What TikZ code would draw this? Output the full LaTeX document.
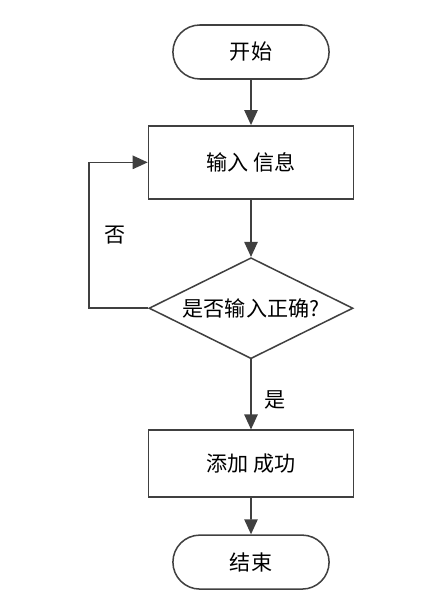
\documentclass[tikz,border=0pt]{standalone}
\usepackage{fontspec}
\setmainfont{Noto Sans CJK SC}
\usetikzlibrary{arrows.meta, positioning, shapes.geometric, shapes.misc}
\definecolor{linegray}{HTML}{404040}
\tikzset{
  term/.style={draw=linegray, line width=1.3pt, rounded rectangle, minimum width=4.92cm, minimum height=1.62cm, font=\fontsize{18}{20}\selectfont},
  proc/.style={draw=linegray, line width=1.3pt, minimum width=6.15cm, minimum height=#1, font=\fontsize{18}{20}\selectfont},
  cond/.style={draw=linegray, line width=1.3pt, diamond, aspect=2, inner sep=0pt, minimum width=6.12cm, minimum height=3.03cm, font=\fontsize{18}{20}\selectfont},
  lbl/.style={font=\fontsize{18}{20}\selectfont},
  arr/.style={-{Triangle[length=4.5mm, width=4mm]}, draw=linegray, line width=1.3pt},
}
\begin{document}
\begin{tikzpicture}
    \useasboundingbox (0,0) rectangle (13.29,-17.91);
    \node[term] (start) at (7.53,-1.56) {开始};
    \node[proc=2.19cm, below=1.36cm of start] (inp) {输入\hspace{0.2em}信息};
    \node[cond, below=1.72cm of inp] (chk) {是否输入正确?};
    \node[proc=2.0cm, below=2.1cm of chk] (add) {添加\hspace{0.2em}成功};
    \node[term, below=1.1cm of add] (stop) {结束};
    \node[lbl] (no) at (3.45,-7.05) {否};
    \node[lbl] (yes) at (8.25,-12.0) {是};
    \draw[arr] (start) -- (inp);
    \draw[arr] (inp) -- (chk);
    \draw[arr] (chk) -- (add);
    \draw[arr] (add) -- (stop);
    \draw[arr] (chk.west) -- ++(-1.77,0) |- (inp.west);
  \end{tikzpicture}
\end{document}
